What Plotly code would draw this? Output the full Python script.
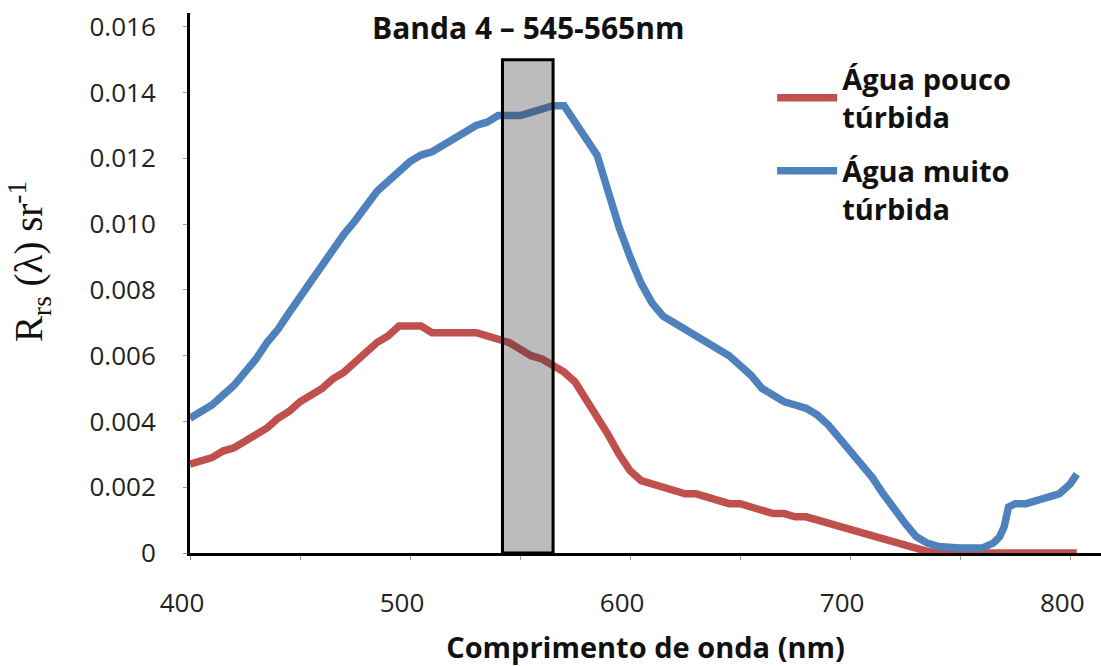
import plotly.graph_objects as go

# Wavelengths (nm) and remote-sensing reflectance values
wl_blue = [400, 405, 410, 415, 420, 425, 430, 435, 440, 445, 450, 455, 460, 465, 470, 475,
           480, 485, 490, 495, 500, 505, 510, 515, 520, 525, 530, 535, 540, 545, 550, 555,
           560, 565, 570, 575, 580, 585, 590, 595, 600, 605, 610, 615, 620, 625, 630, 635,
           640, 645, 650, 655, 660, 665, 670, 675, 680, 685, 690, 695, 700, 705, 710, 715,
           720, 725, 730, 735, 740, 745, 750, 755, 760, 765, 768, 770, 772, 775, 780, 785,
           790, 795, 800, 803]
rrs_blue = [0.0041, 0.0043, 0.0045, 0.0048, 0.0051, 0.0055, 0.0059, 0.0064, 0.0068, 0.0073,
            0.0078, 0.0083, 0.0088, 0.0092, 0.0097, 0.0101, 0.0106, 0.0110, 0.0113, 0.0116,
            0.0119, 0.0121, 0.0122, 0.0124, 0.0126, 0.0128, 0.0130, 0.0131, 0.0133, 0.0133,
            0.0133, 0.0134, 0.0135, 0.0136, 0.0136, 0.0131, 0.0126, 0.0121, 0.0110, 0.0099,
            0.0090, 0.0082, 0.0076, 0.0072, 0.0070, 0.0068, 0.0066, 0.0064, 0.0062, 0.0060,
            0.0057, 0.0054, 0.0050, 0.0048, 0.0046, 0.0045, 0.0044, 0.0042, 0.0039, 0.0035,
            0.0031, 0.0027, 0.0023, 0.0018, 0.0013, 0.0009, 0.0005, 0.0003, 0.0002, 0.00015,
            0.00015, 0.00015, 0.00015, 0.0003, 0.0005, 0.0008, 0.0014, 0.0015, 0.0015, 0.0016,
            0.0017, 0.0018, 0.0021, 0.0024]

wl_red = [400, 405, 410, 415, 420, 425, 430, 435, 440, 445, 450, 455, 460, 465, 470, 475,
          480, 485, 490, 495, 500, 505, 510, 515, 520, 525, 530, 535, 540, 545, 550, 555,
          560, 565, 570, 575, 580, 585, 590, 595, 600, 605, 610, 615, 620, 625, 630, 635,
          640, 645, 650, 655, 660, 665, 670, 675, 680, 685, 690, 695, 700, 705, 710, 715,
          720, 725, 730, 735, 740, 760, 780, 803]
rrs_red = [0.0027, 0.0028, 0.0029, 0.0031, 0.0032, 0.0034, 0.0036, 0.0038, 0.0041, 0.0043,
           0.0046, 0.0048, 0.0050, 0.0053, 0.0055, 0.0058, 0.0061, 0.0064, 0.0066, 0.0069,
           0.0069, 0.0069, 0.0067, 0.0067, 0.0067, 0.0067, 0.0067, 0.0066, 0.0065, 0.0064,
           0.0062, 0.0060, 0.0059, 0.0057, 0.0055, 0.0052, 0.0047, 0.0042, 0.0036, 0.0030,
           0.0025, 0.0022, 0.0021, 0.0020, 0.0019, 0.0018, 0.0018, 0.0017, 0.0016, 0.0015,
           0.0015, 0.0014, 0.0013, 0.0012, 0.0012, 0.0011, 0.0011, 0.0010, 0.0009, 0.0008,
           0.0007, 0.0006, 0.0005, 0.0004, 0.0003, 0.0002, 0.0001, 0.00005, 0.0, 0.0, 0.0, 0.0]

series_names = ["Água pouco<br>túrbida", "Água muito<br>túrbida"]
band_range = [542, 565]
band_top = 0.015
band_label = "Banda 4 – 545-565nm"
y_title = "R<sub>rs</sub> (λ) sr<sup>-1</sup>"
x_title = "Comprimento de onda (nm)"
y_tickvals = [0, 0.002, 0.004, 0.006, 0.008, 0.010, 0.012, 0.014, 0.016]
y_ticktext = ["0", "0.002", "0.004", "0.006", "0.008", "0.010", "0.012", "0.014", "0.016"]
x_tickvals = [400, 500, 600, 700, 800]

RED = "#C0504D"
BLUE = "#4F81BD"
FONT = "Open Sans"
LW = 7.5

fig = go.Figure()
fig.add_trace(go.Scatter(x=wl_red, y=rrs_red, mode="lines", name=series_names[0],
                         line=dict(color=RED, width=LW), legend="legend"))
fig.add_trace(go.Scatter(x=wl_blue, y=rrs_blue, mode="lines", name=series_names[1],
                         line=dict(color=BLUE, width=LW), legend="legend2"))

fig.add_shape(type="rect", xref="x", yref="y", x0=band_range[0], x1=band_range[1],
              y0=0, y1=band_top, fillcolor="rgba(60,60,60,0.34)",
              line=dict(color="black", width=3), layer="above")

fig.add_annotation(x=(band_range[0] + band_range[1]) / 2, xref="x", y=0.974, yref="paper",
                   text=band_label, showarrow=False, yanchor="middle",
                   font=dict(family=FONT, size=30, color="#111", weight="bold"))

# y-axis title placed as a rotated annotation (sits slightly above the plot centre)
fig.add_annotation(x=-0.1756, xref="paper", y=0.539, yref="paper", text=y_title,
                   textangle=-90, showarrow=False, xanchor="center", yanchor="middle",
                   font=dict(family="Liberation Serif", size=39, color="#111"))

legend_font = dict(family=FONT, size=29, color="#111", weight="bold")
fig.update_layout(
    width=1101, height=666,
    margin=dict(l=190, r=0, t=13, b=113),
    plot_bgcolor="white", paper_bgcolor="white",
    font=dict(family=FONT, color="#222"),
    legend=dict(x=0.639, y=0.925, xanchor="left", yanchor="top", font=legend_font,
                bgcolor="rgba(0,0,0,0)", itemwidth=60, valign="middle"),
    legend2=dict(x=0.639, y=0.755, xanchor="left", yanchor="top", font=legend_font,
                 bgcolor="rgba(0,0,0,0)", itemwidth=60, valign="top"),
    showlegend=True,
)

fig.update_xaxes(
    range=[400, 814], tickvals=x_tickvals, showgrid=False, zeroline=False,
    showline=True, linecolor="black", linewidth=3,
    ticks="outside", ticklen=4, tickcolor="#999", tickwidth=1,
    minor=dict(dtick=50, ticks="outside", ticklen=4, tickcolor="#999", tickwidth=1),
    tickfont=dict(family=FONT, size=26, color="#222"),
    ticklabelstandoff=21, ticklabelshift=-8,
    title=dict(text=x_title, standoff=20,
               font=dict(family=FONT, size=29, color="#111", weight="bold")),
)
fig.update_yaxes(
    range=[0, 0.01642], tickvals=y_tickvals, ticktext=y_ticktext,
    showgrid=False, zeroline=False,
    showline=True, linecolor="black", linewidth=3,
    ticks="outside", ticklen=4, tickcolor="#999", tickwidth=1,
    tickfont=dict(family=FONT, size=26, color="#222"),
    ticklabelstandoff=22,
)

fig.write_html("out.html")
